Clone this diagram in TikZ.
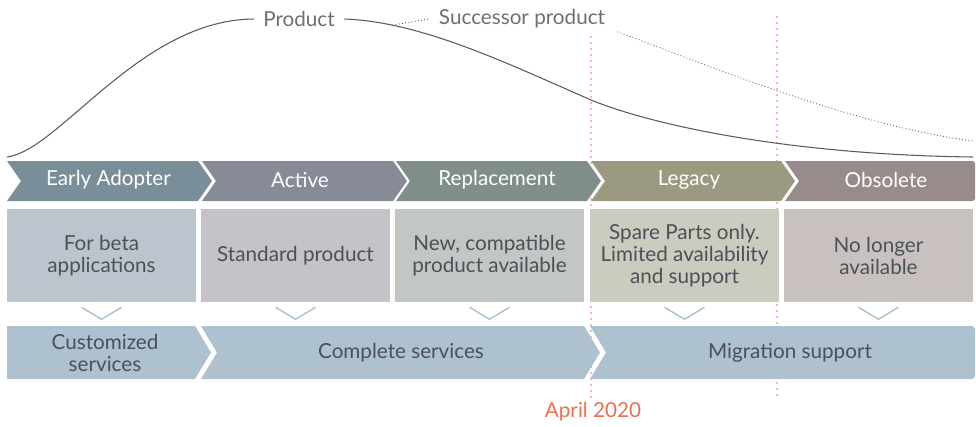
\documentclass[tikz,border=0pt]{standalone}
\usepackage{fontspec}
\setmainfont{Lato}
\usetikzlibrary{positioning}

\definecolor{eaChev}{HTML}{7A8E99}
\definecolor{acChev}{HTML}{878A97}
\definecolor{reChev}{HTML}{808E89}
\definecolor{leChev}{HTML}{9B9A81}
\definecolor{obChev}{HTML}{988B8B}
\definecolor{eaBox}{HTML}{BCC5CD}
\definecolor{acBox}{HTML}{C4C3C9}
\definecolor{reBox}{HTML}{C2C6C5}
\definecolor{leBox}{HTML}{CCCBBF}
\definecolor{obBox}{HTML}{C9C1C0}
\definecolor{servBlue}{HTML}{ADC1CE}
\definecolor{textGray}{HTML}{4A5157}
\definecolor{curveGray}{HTML}{5E5A5B}
\definecolor{labelGray}{HTML}{736D6E}
\definecolor{dateRed}{HTML}{E8714F}

\tikzset{
	txt/.style={font=\fontsize{15.5}{16.5}\selectfont, align=center},
	stage/.style={txt, text=white},
	infobox/.style={txt, text=textGray, minimum width=141.75pt, minimum height=69.75pt, inner sep=0pt},
	service/.style={txt, text=textGray},
	vmark/.style={draw=servBlue, line width=1.1pt},
	deadline/.style={draw=dateRed, line width=1.2pt, line cap=round, dash pattern=on 0pt off 4.5pt},
	lifecurve/.style={draw=curveGray, line width=0.8pt},
	succcurve/.style={draw=curveGray, line width=0.9pt, line cap=round, dash pattern=on 0pt off 2.4pt},
	curvelabel/.style={txt, text=labelGray, outer sep=4pt}
}

\begin{document}
\begin{tikzpicture}[x=0.75pt,y=-0.75pt]
	\useasboundingbox (0,0) rectangle (976,426);

	% date lines (behind everything)
	\coordinate (d1top) at (591,37);
	\coordinate (d1bot) at (591,400);
	\coordinate (d2top) at (777,17);
	\coordinate (d2bot) at (777,400);
	\draw[deadline] (d1top) -- (d1bot);
	\draw[deadline] (d2top) -- (d2bot);
	\node[txt, text=dateRed] (april) at (593,412) {April 2020};

	% life curves
	\node[curvelabel] (prod) at (299,19) {Product};
	\node[curvelabel] (succ) at (522,19) {Successor product};
	\coordinate (c0) at (7,157);
	\coordinate (c1) at (973,157);
	\draw[lifecurve] (c0) .. controls (60,150) and (140,20) .. (prod.west);
	\draw[lifecurve] (prod.east) .. controls (420,22) and (500,60) .. (591,100)
		.. controls (660,128) and (800,155) .. (c1);
	\coordinate (s0) at (393,25);
	\coordinate (s1) at (618,32);
	\coordinate (s2) at (973,141);
	\draw[succcurve] (s0) -- (succ.west);
	\draw[succcurve] (s1) .. controls (700,62) and (850,125) .. (s2);

	% phase chevrons
	\fill[eaChev] (7,161) -- (198,161) -- (212,181) -- (198,201) -- (7,201) -- (21,181) -- cycle;
	\fill[acChev] (202,161) -- (393,161) -- (407,181) -- (393,201) -- (202,201) -- (216,181) -- cycle;
	\fill[reChev] (396,161) -- (587,161) -- (601,181) -- (587,201) -- (396,201) -- (410,181) -- cycle;
	\fill[leChev] (591,161) -- (781,161) -- (795,181) -- (781,201) -- (591,201) -- (605,181) -- cycle;
	\fill[obChev] (785,161) {[rounded corners=2pt] -- (975,161) -- (975,201)} -- (785,201) -- (799,181) -- cycle;
	\node[stage] (early) at (108.5,180) {Early Adopter};
	\node[stage] (active) at (300,180) {Active};
	\node[stage] (replace) at (497,180) {Replacement};
	\node[stage] (legacy) at (689,180) {Legacy};
	\node[stage] (obsolete) at (886,180) {Obsolete};

	% descriptions
	\node[infobox, fill=eaBox] (beta) at (101.5,255.5) {For beta\\applications};
	\node[infobox, fill=acBox] (standard) at (295.5,255.5) {Standard product};
	\node[infobox, fill=reBox] (compat) at (489.5,255.5) {New, compatible\\product available};
	\node[infobox, fill=leBox] (spare) at (684.5,255.5) {Spare Parts only.\\Limited availability\\and support};
	\node[infobox, fill=obBox] (nolonger) at (878.5,255.5) {No longer\\available};

	% small v marks
	\draw[vmark] ([xshift=-15pt,yshift=-3.75pt]beta.south) -- ([yshift=-12.75pt]beta.south) -- ([xshift=15pt,yshift=-3.75pt]beta.south);
	\draw[vmark] ([xshift=-15pt,yshift=-3.75pt]standard.south) -- ([yshift=-12.75pt]standard.south) -- ([xshift=15pt,yshift=-3.75pt]standard.south);
	\draw[vmark] ([xshift=-15pt,yshift=-3.75pt]compat.south) -- ([yshift=-12.75pt]compat.south) -- ([xshift=15pt,yshift=-3.75pt]compat.south);
	\draw[vmark] ([xshift=-15pt,yshift=-3.75pt]spare.south) -- ([yshift=-12.75pt]spare.south) -- ([xshift=15pt,yshift=-3.75pt]spare.south);
	\draw[vmark] ([xshift=-15pt,yshift=-3.75pt]nolonger.south) -- ([yshift=-12.75pt]nolonger.south) -- ([xshift=15pt,yshift=-3.75pt]nolonger.south);

	% services
	\fill[servBlue] (7,326) -- (195,326) -- (211,352.5) -- (195,379) -- (7,379) -- cycle;
	\fill[servBlue] (201,326) -- (584,326) -- (600,352.5) -- (584,379) -- (201,379) -- (217,352.5) -- cycle;
	\fill[servBlue] (590,326) {[rounded corners=2.5pt] -- (975,326) -- (975,379)} -- (590,379) -- (606,352.5) -- cycle;
	\node[service] (custom) at (105,352.5) {Customized\\services};
	\node[service] (complete) at (401,353) {Complete services};
	\node[service] (migrate) at (790,353) {Migration support};
\end{tikzpicture}
\end{document}
